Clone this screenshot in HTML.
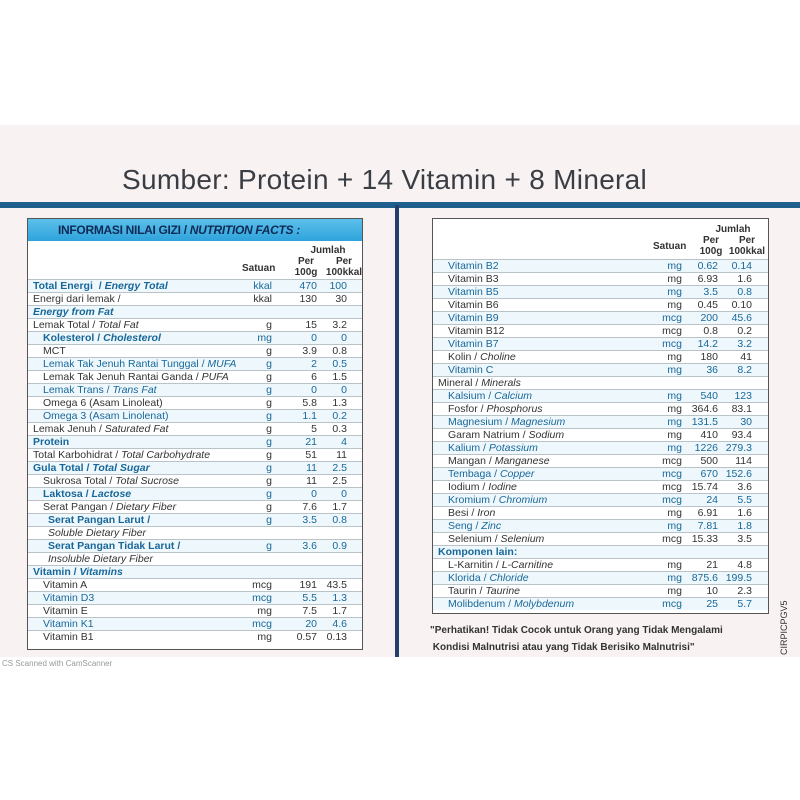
<!DOCTYPE html>
<html><head><meta charset="utf-8">
<style>
*{margin:0;padding:0;box-sizing:border-box}
body{width:800px;height:800px;background:#fff;position:relative;overflow:hidden;font-family:"Liberation Sans",sans-serif}
.bg{position:absolute;left:0;top:125px;width:800px;height:532px;background:#f8f3f2}
.title{position:absolute;left:122px;top:164px;font-size:28px;color:#3a3d44;letter-spacing:0.3px;white-space:nowrap}
.hl{position:absolute;left:0;top:202px;width:800px;height:6px;background:#1f5f8e}
.vl{position:absolute;left:395px;top:205px;width:4px;height:452px;background:#24406a}
.tb{position:absolute;background:#fff;border:1.5px solid #555}
.band{position:absolute;left:0;top:0;right:0;height:22px;background:linear-gradient(#5cc0ea,#2ea3dc);color:#0f2a55;font-weight:bold;font-size:12px;padding:4px 0 0 30px;letter-spacing:-0.3px}
.r{position:absolute;left:0;right:0;height:13px;font-size:10.5px;line-height:13px;color:#333;border-top:1px solid #b9c3c8;white-space:nowrap}
.b{background:#eef8fc;color:#18679a}
.b .n{font-weight:bold}
.n{position:absolute;left:5px}
.i{padding-left:10px}
.u{position:absolute;text-align:right}
.hd{position:absolute;font-size:10px;font-weight:bold;color:#333;text-align:center;line-height:11px}
.foot{position:absolute;left:430px;top:622px;font-size:10px;font-weight:bold;color:#333;line-height:17px;white-space:nowrap}
.cs{position:absolute;left:2px;top:659px;font-size:8px;color:#999}
.code{position:absolute;left:779px;font-size:9px;color:#333;transform:rotate(-90deg);transform-origin:left top;top:655px}
#L .u1{right:90px}#L .u2{right:45px;width:40px}#L .u3{right:15px;width:30px}
#R .u1{right:86px}#R .u2{right:50px;width:40px}#R .u3{right:16px;width:30px}
</style></head><body>
<div class="bg"></div>
<div class="title">Sumber: Protein + 14 Vitamin + 8 Mineral</div>
<div class="hl"></div>
<div class="vl"></div>

<div class="tb" id="L" style="left:27px;top:218px;width:336px;height:432px">
<div class="band">INFORMASI NILAI GIZI / <i>NUTRITION FACTS :</i></div>
<div class="hd" style="left:214px;top:44px">Satuan</div>
<div class="hd" style="left:265px;top:26px;width:70px">Jumlah</div>
<div class="hd" style="left:258px;top:37px;width:40px">Per<br>100g</div>
<div class="hd" style="left:296px;top:37px;width:40px">Per<br>100kkal</div>
<div class="r b" style="top:60px"><span class="n">Total Energi &nbsp;/ <i>Energy Total</i></span><span class="u u1">kkal</span><span class="u u2">470</span><span class="u u3">100</span></div>
<div class="r" style="top:73px"><span class="n">Energi dari lemak /</span><span class="u u1">kkal</span><span class="u u2">130</span><span class="u u3">30</span></div>
<div class="r b" style="top:86px"><span class="n"><i>Energy from Fat</i></span></div>
<div class="r" style="top:99px"><span class="n">Lemak Total / <i>Total Fat</i></span><span class="u u1">g</span><span class="u u2">15</span><span class="u u3">3.2</span></div>
<div class="r b" style="top:112px"><span class="n i">Kolesterol / <i>Cholesterol</i></span><span class="u u1">mg</span><span class="u u2">0</span><span class="u u3">0</span></div>
<div class="r" style="top:125px"><span class="n i">MCT</span><span class="u u1">g</span><span class="u u2">3.9</span><span class="u u3">0.8</span></div>
<div class="r b" style="top:138px"><span class="n i" style="font-weight:normal">Lemak Tak Jenuh Rantai Tunggal / <i>MUFA</i></span><span class="u u1">g</span><span class="u u2">2</span><span class="u u3">0.5</span></div>
<div class="r" style="top:151px"><span class="n i">Lemak Tak Jenuh Rantai Ganda / <i>PUFA</i></span><span class="u u1">g</span><span class="u u2">6</span><span class="u u3">1.5</span></div>
<div class="r b" style="top:164px"><span class="n i" style="font-weight:normal">Lemak Trans / <i>Trans Fat</i></span><span class="u u1">g</span><span class="u u2">0</span><span class="u u3">0</span></div>
<div class="r" style="top:177px"><span class="n i">Omega 6 (Asam Linoleat)</span><span class="u u1">g</span><span class="u u2">5.8</span><span class="u u3">1.3</span></div>
<div class="r b" style="top:190px"><span class="n i" style="font-weight:normal">Omega 3 (Asam Linolenat)</span><span class="u u1">g</span><span class="u u2">1.1</span><span class="u u3">0.2</span></div>
<div class="r" style="top:203px"><span class="n">Lemak Jenuh / <i>Saturated Fat</i></span><span class="u u1">g</span><span class="u u2">5</span><span class="u u3">0.3</span></div>
<div class="r b" style="top:216px"><span class="n">Protein</span><span class="u u1">g</span><span class="u u2">21</span><span class="u u3">4</span></div>
<div class="r" style="top:229px"><span class="n">Total Karbohidrat / <i>Total Carbohydrate</i></span><span class="u u1">g</span><span class="u u2">51</span><span class="u u3">11</span></div>
<div class="r b" style="top:242px"><span class="n">Gula Total / <i>Total Sugar</i></span><span class="u u1">g</span><span class="u u2">11</span><span class="u u3">2.5</span></div>
<div class="r" style="top:255px"><span class="n i">Sukrosa Total / <i>Total Sucrose</i></span><span class="u u1">g</span><span class="u u2">11</span><span class="u u3">2.5</span></div>
<div class="r b" style="top:268px"><span class="n i">Laktosa / <i>Lactose</i></span><span class="u u1">g</span><span class="u u2">0</span><span class="u u3">0</span></div>
<div class="r" style="top:281px"><span class="n i">Serat Pangan / <i>Dietary Fiber</i></span><span class="u u1">g</span><span class="u u2">7.6</span><span class="u u3">1.7</span></div>
<div class="r b" style="top:294px"><span class="n" style="left:20px;font-weight:bold">Serat Pangan Larut /</span><span class="u u1">g</span><span class="u u2">3.5</span><span class="u u3">0.8</span></div>
<div class="r" style="top:307px"><span class="n" style="left:20px"><i>Soluble Dietary Fiber</i></span></div>
<div class="r b" style="top:320px"><span class="n" style="left:20px;font-weight:bold">Serat Pangan Tidak Larut /</span><span class="u u1">g</span><span class="u u2">3.6</span><span class="u u3">0.9</span></div>
<div class="r" style="top:333px"><span class="n" style="left:20px"><i>Insoluble Dietary Fiber</i></span></div>
<div class="r b" style="top:346px"><span class="n">Vitamin / <i>Vitamins</i></span></div>
<div class="r" style="top:359px"><span class="n i">Vitamin A</span><span class="u u1">mcg</span><span class="u u2">191</span><span class="u u3">43.5</span></div>
<div class="r b" style="top:372px"><span class="n i" style="font-weight:normal">Vitamin D3</span><span class="u u1">mcg</span><span class="u u2">5.5</span><span class="u u3">1.3</span></div>
<div class="r" style="top:385px"><span class="n i">Vitamin E</span><span class="u u1">mg</span><span class="u u2">7.5</span><span class="u u3">1.7</span></div>
<div class="r b" style="top:398px"><span class="n i" style="font-weight:normal">Vitamin K1</span><span class="u u1">mcg</span><span class="u u2">20</span><span class="u u3">4.6</span></div>
<div class="r" style="top:411px"><span class="n i">Vitamin B1</span><span class="u u1">mg</span><span class="u u2">0.57</span><span class="u u3">0.13</span></div>
</div>

<div class="tb" id="R" style="left:432px;top:218px;width:337px;height:396px">
<div class="hd" style="left:220px;top:22px">Satuan</div>
<div class="hd" style="left:265px;top:5px;width:70px">Jumlah</div>
<div class="hd" style="left:258px;top:16px;width:40px">Per<br>100g</div>
<div class="hd" style="left:294px;top:16px;width:40px">Per<br>100kkal</div>
<div class="r b" style="top:40px"><span class="n i" style="font-weight:normal">Vitamin B2</span><span class="u u1">mg</span><span class="u u2">0.62</span><span class="u u3">0.14</span></div>
<div class="r" style="top:53px"><span class="n i">Vitamin B3</span><span class="u u1">mg</span><span class="u u2">6.93</span><span class="u u3">1.6</span></div>
<div class="r b" style="top:66px"><span class="n i" style="font-weight:normal">Vitamin B5</span><span class="u u1">mg</span><span class="u u2">3.5</span><span class="u u3">0.8</span></div>
<div class="r" style="top:79px"><span class="n i">Vitamin B6</span><span class="u u1">mg</span><span class="u u2">0.45</span><span class="u u3">0.10</span></div>
<div class="r b" style="top:92px"><span class="n i" style="font-weight:normal">Vitamin B9</span><span class="u u1">mcg</span><span class="u u2">200</span><span class="u u3">45.6</span></div>
<div class="r" style="top:105px"><span class="n i">Vitamin B12</span><span class="u u1">mcg</span><span class="u u2">0.8</span><span class="u u3">0.2</span></div>
<div class="r b" style="top:118px"><span class="n i" style="font-weight:normal">Vitamin B7</span><span class="u u1">mcg</span><span class="u u2">14.2</span><span class="u u3">3.2</span></div>
<div class="r" style="top:131px"><span class="n i">Kolin / <i>Choline</i></span><span class="u u1">mg</span><span class="u u2">180</span><span class="u u3">41</span></div>
<div class="r b" style="top:144px"><span class="n i" style="font-weight:normal">Vitamin C</span><span class="u u1">mg</span><span class="u u2">36</span><span class="u u3">8.2</span></div>
<div class="r" style="top:157px"><span class="n">Mineral / <i>Minerals</i></span></div>
<div class="r b" style="top:170px"><span class="n i" style="font-weight:normal">Kalsium / <i>Calcium</i></span><span class="u u1">mg</span><span class="u u2">540</span><span class="u u3">123</span></div>
<div class="r" style="top:183px"><span class="n i">Fosfor / <i>Phosphorus</i></span><span class="u u1">mg</span><span class="u u2">364.6</span><span class="u u3">83.1</span></div>
<div class="r b" style="top:196px"><span class="n i" style="font-weight:normal">Magnesium / <i>Magnesium</i></span><span class="u u1">mg</span><span class="u u2">131.5</span><span class="u u3">30</span></div>
<div class="r" style="top:209px"><span class="n i">Garam Natrium / <i>Sodium</i></span><span class="u u1">mg</span><span class="u u2">410</span><span class="u u3">93.4</span></div>
<div class="r b" style="top:222px"><span class="n i" style="font-weight:normal">Kalium / <i>Potassium</i></span><span class="u u1">mg</span><span class="u u2">1226</span><span class="u u3">279.3</span></div>
<div class="r" style="top:235px"><span class="n i">Mangan / <i>Manganese</i></span><span class="u u1">mcg</span><span class="u u2">500</span><span class="u u3">114</span></div>
<div class="r b" style="top:248px"><span class="n i" style="font-weight:normal">Tembaga / <i>Copper</i></span><span class="u u1">mcg</span><span class="u u2">670</span><span class="u u3">152.6</span></div>
<div class="r" style="top:261px"><span class="n i">Iodium / <i>Iodine</i></span><span class="u u1">mcg</span><span class="u u2">15.74</span><span class="u u3">3.6</span></div>
<div class="r b" style="top:274px"><span class="n i" style="font-weight:normal">Kromium / <i>Chromium</i></span><span class="u u1">mcg</span><span class="u u2">24</span><span class="u u3">5.5</span></div>
<div class="r" style="top:287px"><span class="n i">Besi / <i>Iron</i></span><span class="u u1">mg</span><span class="u u2">6.91</span><span class="u u3">1.6</span></div>
<div class="r b" style="top:300px"><span class="n i" style="font-weight:normal">Seng / <i>Zinc</i></span><span class="u u1">mg</span><span class="u u2">7.81</span><span class="u u3">1.8</span></div>
<div class="r" style="top:313px"><span class="n i">Selenium / <i>Selenium</i></span><span class="u u1">mcg</span><span class="u u2">15.33</span><span class="u u3">3.5</span></div>
<div class="r b" style="top:326px"><span class="n">Komponen lain:</span></div>
<div class="r" style="top:339px"><span class="n i">L-Karnitin / <i>L-Carnitine</i></span><span class="u u1">mg</span><span class="u u2">21</span><span class="u u3">4.8</span></div>
<div class="r b" style="top:352px"><span class="n i" style="font-weight:normal">Klorida / <i>Chloride</i></span><span class="u u1">mg</span><span class="u u2">875.6</span><span class="u u3">199.5</span></div>
<div class="r" style="top:365px"><span class="n i">Taurin / <i>Taurine</i></span><span class="u u1">mg</span><span class="u u2">10</span><span class="u u3">2.3</span></div>
<div class="r b" style="top:378px"><span class="n i" style="font-weight:normal">Molibdenum / <i>Molybdenum</i></span><span class="u u1">mcg</span><span class="u u2">25</span><span class="u u3">5.7</span></div>
</div>

<div class="foot">"Perhatikan! Tidak Cocok untuk Orang yang Tidak Mengalami<br>&nbsp;Kondisi Malnutrisi atau yang Tidak Berisiko Malnutrisi"</div>
<div class="code">CIRPICPGV5</div>
<div class="cs">CS Scanned with CamScanner</div>
</body></html>
